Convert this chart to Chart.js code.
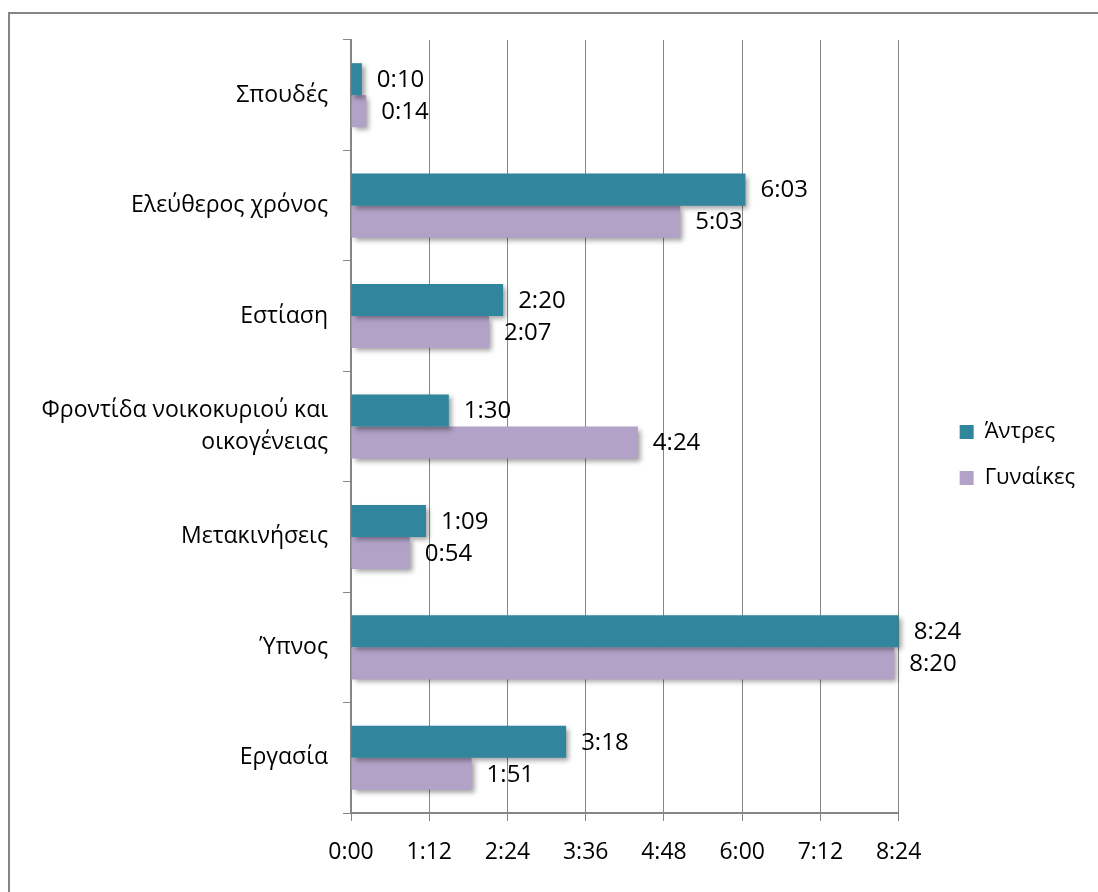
<!DOCTYPE html>
<html>
<head>
<meta charset="utf-8">
<script src="https://cdn.jsdelivr.net/npm/chart.js@4/dist/chart.umd.min.js"></script>
<style>
  html, body { margin: 0; padding: 0; background: #fff; overflow: hidden; }
  #wrap { position: absolute; left: 0; top: 0; width: 1098px; height: 892px; }
  #frame { position: absolute; left: 8px; top: 12px; width: 1200px; height: 1000px; border-left: 2px solid #868686; border-top: 2px solid #868686; }
</style>
</head>
<body>
<div id="wrap">
  <div id="frame"></div>
  <canvas id="chart" width="1098" height="892" style="position:absolute;left:0;top:0;"></canvas>
</div>
<script>
// time-use chart (minutes per day), men vs women
const CATEGORIES = ['Σπουδές', 'Ελεύθερος χρόνος', 'Εστίαση', ['Φροντίδα νοικοκυριού και', 'οικογένειας'], 'Μετακινήσεις', 'Ύπνος', 'Εργασία'];
const MEN = [10, 363, 140, 90, 69, 504, 198];
const WOMEN = [14, 303, 127, 264, 54, 500, 111];
const SERIES_NAMES = ['Άντρες', 'Γυναίκες'];
const X_MAX = 504;   // 8:24
const X_STEP = 72;   // 1:12

const FONT = '"Open Sans", "Noto Sans", sans-serif';
const TEAL = '#31859C';
const LILAC = '#B3A2C7';
const GRID = '#868686';

function hm(mins){
  const h = Math.floor(mins / 60), m = Math.round(mins % 60);
  return h + ':' + (m < 10 ? '0' + m : m);
}

// soft drop shadow under the bars, like the old office charts
const barShadow = {
  id: 'barShadow',
  beforeDatasetsDraw(chart){
    const ctx = chart.ctx;
    ctx.save();
    ctx.shadowColor = 'rgba(0,0,0,0.38)';
    ctx.shadowBlur = 5;
    ctx.shadowOffsetX = 3;
    ctx.shadowOffsetY = 3;
  },
  afterDatasetsDraw(chart){ chart.ctx.restore(); }
};

// value labels at the bar ends
const valueLabels = {
  id: 'valueLabels',
  afterDatasetsDraw(chart){
    const ctx = chart.ctx;
    ctx.save();
    ctx.font = '24px ' + FONT;
    ctx.fillStyle = '#000';
    ctx.textAlign = 'left';
    ctx.textBaseline = 'middle';
    chart.data.datasets.forEach((ds, i) => {
      const meta = chart.getDatasetMeta(i);
      meta.data.forEach((bar, j) => {
        ctx.fillText(hm(ds.data[j]), bar.x + 15, bar.y + 1);
      });
    });
    ctx.restore();
  }
};

// empty layout boxes: gap left of the legend, and extra room above the plot
function spacer(position, size){
  return {
    position, weight: 500, fullSize: false, options: {},
    left: 0, top: 0, right: 0, bottom: 0, width: 0, height: 0,
    isHorizontal(){ return position === 'top' || position === 'bottom'; },
    update(maxW, maxH){
      if (this.isHorizontal()) { this.width = maxW; this.height = size; }
      else { this.width = size; this.height = maxH; }
    },
    draw(){}
  };
}
const spacers = {
  id: 'spacers',
  beforeInit(chart){
    Chart.layouts.addBox(chart, spacer('right', 37));
    Chart.layouts.addBox(chart, spacer('top', 22));
  }
};

new Chart(document.getElementById('chart').getContext('2d'), {
  type: 'bar',
  data: {
    labels: CATEGORIES,
    datasets: [
      { label: SERIES_NAMES[0], data: MEN, backgroundColor: TEAL, clip: false },
      { label: SERIES_NAMES[1], data: WOMEN, backgroundColor: LILAC, clip: false }
    ]
  },
  options: {
    indexAxis: 'y',
    responsive: false,
    animation: false,
    devicePixelRatio: 1,
    categoryPercentage: 0.58,
    barPercentage: 1,
    layout: { padding: { top: 18, right: 13, bottom: 0, left: 0 } },
    plugins: {
      tooltip: { enabled: false },
      legend: {
        position: 'right',
        labels: { boxWidth: 14, boxHeight: 14, padding: 24, color: '#000', font: { family: FONT, size: 22 } }
      }
    },
    scales: {
      x: {
        min: 0, max: X_MAX,
        afterFit(s){ s.height = 79; },
        ticks: { stepSize: X_STEP, callback: v => hm(v), color: '#000', padding: 18, maxRotation: 0, font: { family: FONT, size: 23 } },
        grid: { color: GRID, lineWidth: 1, tickLength: 8 },
        border: { color: GRID, width: 2 }
      },
      y: {
        afterFit(s){ s.width = 351; },
        ticks: { color: '#000', padding: 15, font: { family: FONT, size: 23, lineHeight: 1.43 } },
        grid: { drawOnChartArea: false, color: GRID, tickLength: 8 },
        border: { color: GRID, width: 2 }
      }
    }
  },
  plugins: [barShadow, valueLabels, spacers]
});
</script>
</body>
</html>
